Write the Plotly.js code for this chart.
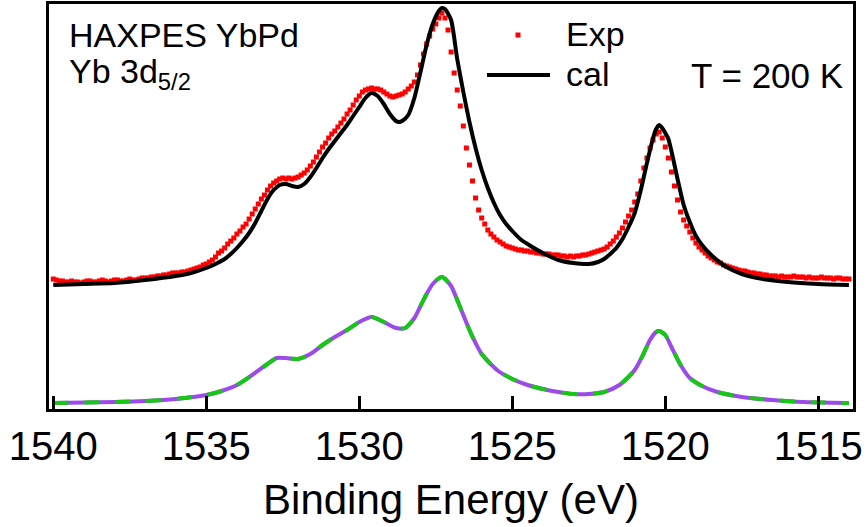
<!DOCTYPE html>
<html>
<head>
<meta charset="utf-8">
<script src="https://cdn.plot.ly/plotly-3.0.1.min.js"></script>
<style>
html,body{margin:0;padding:0;background:#fff;}
#chart{width:867px;height:527px;}
</style>
</head>
<body>
<div id="chart"></div>
<script>
// ---------- data (binding energy in eV, intensity in arbitrary units) ----------
const expEnergy = [
1540.0,1539.9,1539.8,1539.7,1539.6,1539.5,1539.4,1539.3,1539.2,1539.1,
1539.0,1538.9,1538.8,1538.7,1538.6,1538.5,1538.4,1538.3,1538.2,1538.1,
1538.0,1537.9,1537.8,1537.7,1537.6,1537.5,1537.4,1537.3,1537.2,1537.1,
1537.0,1536.9,1536.8,1536.7,1536.6,1536.5,1536.4,1536.3,1536.2,1536.1,
1536.0,
1535.9,1535.8,1535.7,1535.6,1535.5,1535.4,1535.3,1535.2,1535.1,1535.0,
1534.9,1534.8,1534.7,1534.6,1534.5,1534.4,1534.3,1534.2,1534.1,1534.0,
1533.9,1533.8,1533.7,1533.6,1533.5,1533.4,1533.3,1533.2,1533.1,1533.0,
1532.9,1532.8,1532.7,1532.6,1532.5,1532.4,1532.3,1532.2,1532.1,1532.0,
1531.9,1531.8,1531.7,1531.6,1531.5,1531.4,1531.3,1531.2,1531.1,1531.0,
1530.9,1530.8,1530.7,1530.6,1530.5,1530.4,1530.3,1530.2,1530.1,1530.0,
1529.9,1529.8,1529.7,1529.6,1529.5,1529.4,1529.3,1529.2,1529.1,1529.0,
1528.9,1528.8,1528.7,1528.6,1528.5,1528.4,1528.3,1528.2,1528.1,1528.0,
1527.9,1527.8,1527.7,1527.6,1527.5,1527.4,1527.3,1527.2,1527.1,1527.0,
1526.9,1526.8,1526.7,1526.6,1526.5,1526.4,1526.3,1526.2,1526.1,1526.0,
1525.9,1525.8,1525.7,1525.6,1525.5,1525.4,1525.3,1525.2,1525.1,1525.0,
1524.9,1524.8,1524.7,1524.6,1524.5,1524.4,1524.3,1524.2,1524.1,1524.0,
1523.9,1523.8,1523.7,1523.6,1523.5,1523.4,1523.3,1523.2,1523.1,1523.0,
1522.9,1522.8,1522.7,1522.6,1522.5,1522.4,1522.3,1522.2,1522.1,1522.0,
1521.9,1521.8,1521.7,1521.6,1521.5,1521.4,1521.3,1521.2,1521.1,1521.0,
1520.9,1520.8,1520.7,1520.6,1520.5,1520.4,1520.3,1520.2,1520.1,1520.0,
1519.9,1519.8,1519.7,1519.6,1519.5,1519.4,1519.3,1519.2,1519.1,1519.0,
1518.9,1518.8,1518.7,1518.6,1518.5,1518.4,1518.3,1518.2,1518.1,1518.0,
1517.9,1517.8,1517.7,1517.6,1517.5,1517.4,1517.3,1517.2,1517.1,1517.0,
1516.9,1516.8,1516.7,1516.6,1516.5,1516.4,1516.3,1516.2,1516.1,1516.0,
1515.9,1515.8,1515.7,1515.6,1515.5,1515.4,1515.3,1515.2,1515.1,1515.0,
1514.9,1514.8,1514.7,1514.6,1514.5,1514.4,1514.3,1514.2,1514.1,1514.0
];
const expIntensity = [
131,130,129,129,128,128,129,128,128,127,
128,129,129,128,128,129,130,129,128,129,
130,130,129,129,130,131,130,130,131,132,
132,132,133,133,134,134,135,135,136,137,
137,
137,138,138,139,140,141,142,143,145,146,
148,150,153,157,159,162,166,169,172,176,
179,183,186,191,196,201,206,211,215,220,
224,227,229,231,232,231,232,231,232,233,
235,237,240,244,248,253,258,263,267,272,
276,279,283,287,291,296,300,305,310,314,
318,320,321,322,321,321,320,318,316,314,
313,314,315,316,318,321,324,328,335,345,
356,366,374,381,386,392,397,392,380,358,
337,320,304,284,262,245,229,212,200,192,
186,180,176,173,170,168,166,164,163,162,
161,160,160,159,159,158,158,157,157,156,
156,156,155,155,155,154,154,153,154,153,
154,154,155,155,156,157,158,159,160,161,
163,166,169,173,177,182,188,194,200,208,
216,229,242,252,262,270,276,278,272,263,
252,238,224,210,198,190,184,178,172,167,
163,160,157,154,152,150,148,147,145,144,
143,142,141,140,139,139,138,137,137,136,
136,135,135,134,134,134,133,134,133,133,
133,134,133,133,133,132,133,132,132,132,
133,132,132,132,131,132,132,131,131,131
];

const calEnergy = [
1540.0,1539.0,1538.0,1537.0,1536.0,1535.5,1535.0,1534.7,1534.4,1534.2,
1534.0,1533.8,1533.6,1533.4,1533.2,1533.0,1532.8,1532.6,1532.4,1532.2,
1532.0,1531.8,1531.6,1531.4,1531.2,1531.0,1530.8,1530.6,1530.4,1530.2,
1530.0,1529.8,1529.6,1529.4,1529.2,1529.0,1528.8,1528.7,1528.6,1528.4,
1528.2,1528.0,1527.8,1527.6,1527.4,1527.3,1527.2,1527.0,1526.8,1526.6,
1526.4,1526.2,1526.0,1525.8,1525.6,1525.4,1525.2,1525.0,1524.7,1524.4,
1524.0,1523.5,1523.0,1522.5,1522.2,1522.0,1521.8,1521.6,1521.4,1521.2,
1521.0,1520.8,1520.6,1520.4,1520.3,1520.2,1520.1,1520.0,1519.9,1519.8,
1519.6,1519.4,1519.2,1519.0,1518.8,1518.5,1518.0,1517.5,1517.0,1516.0,
1515.0,1514.0];
const calIntensity = [
125,126,127,130,134,137,142,146,151,156,
162,169,177,187,199,211,220,225,226,224,
223,226,233,242,252,261,269,277,285,294,
303,312,317,314,306,296,289,288,289,295,
312,338,365,386,399,402,401,390,351,318,
288,262,240,222,207,195,186,179,170,164,
157,150,147,146,148,151,156,162,171,183,
197,220,247,272,281,285,282,277,271,259,
231,205,188,174,165,155,143,136,132,128,
126,125];

const compEnergy = [
1540.0,1538.0,1537.0,1536.0,1535.0,1534.5,1534.0,1533.5,1533.0,1532.7,
1532.4,1532.0,1531.6,1531.2,1530.8,1530.4,1530.0,1529.6,1529.2,1528.8,
1528.5,1528.2,1528.0,1527.8,1527.6,1527.3,1527.0,1526.8,1526.6,1526.4,
1526.2,1526.0,1525.5,1525.0,1524.5,1524.0,1523.5,1523.0,1522.5,1522.0,
1521.5,1521.0,1520.7,1520.5,1520.3,1520.2,1520.0,1519.8,1519.5,1519.2,
1518.8,1518.3,1517.5,1516.5,1515.5,1514.0];
const compIntensity = [
7,8,9,11,15,19,25,35,46,52,
52,51,56,65,73,80,88,93,88,82,
82,92,104,116,126,133,124,110,95,80,
67,56,40,31,25,21,18,16,16,18,
25,40,57,70,78,79,75,63,45,32,
24,18,13,10,8,7];

const tickValues = [1540,1535,1530,1525,1520,1515];
const tickLabels = ["1540","1535","1530","1525","1520","1515"];

// ---------- traces ----------
const FONT = "Arial, 'Liberation Sans', sans-serif";
const traces = [
  {x: compEnergy, y: compIntensity, type: 'scatter', mode: 'lines', name: 'comp',
   line: {color: '#9b4be8', width: 4, shape: 'spline', smoothing: 0.7}, hoverinfo: 'skip'},
  {x: compEnergy, y: compIntensity, type: 'scatter', mode: 'lines', name: 'comp2',
   line: {color: '#14c814', width: 4, dash: '15px,16px', shape: 'spline', smoothing: 0.7}, hoverinfo: 'skip'},
  {x: expEnergy, y: expIntensity, type: 'scatter', mode: 'markers', name: 'Exp',
   marker: {symbol: 'square', size: 5, color: '#ff0000', line: {width: 0}}},
  {x: calEnergy, y: calIntensity, type: 'scatter', mode: 'lines', name: 'cal',
   line: {color: '#000000', width: 4, shape: 'spline', smoothing: 0.6}}
];

// helpers for paper coordinates from pixel positions (plot area 49..853 x 4..409)
const L = 49, R = 853, T = 4, B = 409;
const px = v => (v - L) / (R - L);
const py = v => (B - v) / (B - T);

const layout = {
  width: 867, height: 527,
  margin: {l: L, r: 867 - R, t: T, b: 527 - B},
  paper_bgcolor: '#ffffff', plot_bgcolor: '#ffffff',
  showlegend: false,
  font: {family: FONT, color: '#000000'},
  xaxis: {
    range: [1540.14, 1513.866], autorange: false,
    tickmode: 'array', tickvals: tickValues, ticktext: tickLabels,
    ticks: 'inside', ticklen: 13, tickwidth: 3, tickcolor: '#000',
    showline: true, linewidth: 3, linecolor: '#000', mirror: true,
    showgrid: false, zeroline: false,
    tickfont: {size: 40, family: FONT, color: '#000'},
    title: {text: 'Binding Energy (eV)', font: {size: 42, family: FONT, color: '#000'}, standoff: 18}
  },
  yaxis: {
    range: [1, 406], autorange: false,
    showline: true, linewidth: 3, linecolor: '#000', mirror: true,
    showticklabels: false, ticks: '', showgrid: false, zeroline: false
  },
  shapes: [
    {type: 'rect', xref: 'paper', yref: 'paper',
     x0: px(515.5), x1: px(520.5), y0: py(37.5), y1: py(32.5),
     fillcolor: '#ff0000', line: {width: 0}},
    {type: 'line', xref: 'paper', yref: 'paper',
     x0: px(487), x1: px(550), y0: py(75), y1: py(75),
     line: {color: '#000', width: 4}}
  ],
  annotations: [
    {text: 'HAXPES YbPd', xref: 'paper', yref: 'paper', x: px(67), y: py(35.5),
     xanchor: 'left', yanchor: 'middle', showarrow: false, font: {size: 34, family: FONT, color: '#000'}},
    {text: 'Yb 3d<sub>5/2</sub>', xref: 'paper', yref: 'paper', x: px(67), y: py(73),
     xanchor: 'left', yanchor: 'middle', showarrow: false, font: {size: 34, family: FONT, color: '#000'}},
    {text: 'Exp', xref: 'paper', yref: 'paper', x: px(564), y: py(34.5),
     xanchor: 'left', yanchor: 'middle', showarrow: false, font: {size: 34, family: FONT, color: '#000'}},
    {text: 'cal', xref: 'paper', yref: 'paper', x: px(564), y: py(73.5),
     xanchor: 'left', yanchor: 'middle', showarrow: false, font: {size: 34, family: FONT, color: '#000'}},
    {text: 'T = 200 K', xref: 'paper', yref: 'paper', x: px(689), y: py(75.5),
     xanchor: 'left', yanchor: 'middle', showarrow: false, font: {size: 35, family: FONT, color: '#000'}}
  ]
};

Plotly.newPlot('chart', traces, layout, {displayModeBar: false, staticPlot: true});
</script>
</body>
</html>
